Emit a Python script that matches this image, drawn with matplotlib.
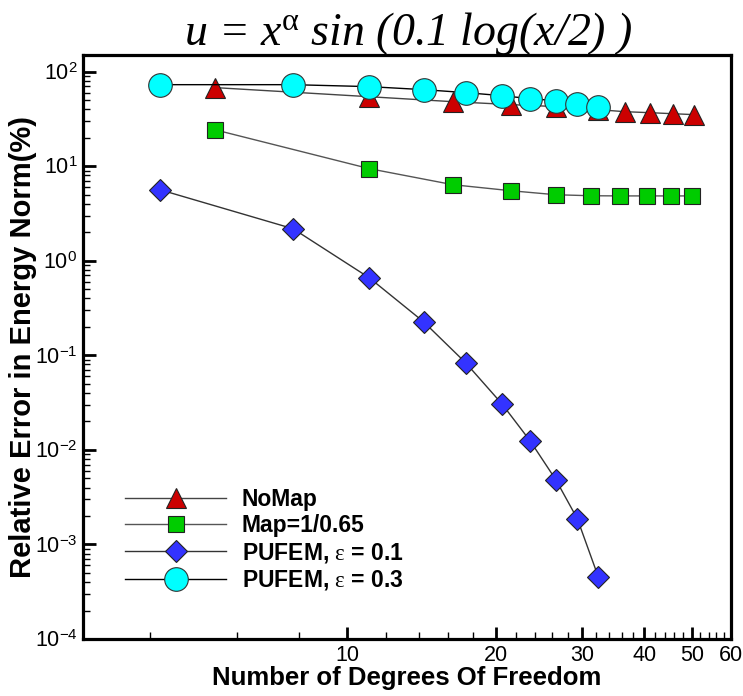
import matplotlib
matplotlib.use("Agg")
import matplotlib.pyplot as plt
from matplotlib.ticker import FixedLocator, FixedFormatter, LogLocator, NullFormatter

plt.rcParams['font.family'] = ['Liberation Sans', 'DejaVu Sans']
plt.rcParams['mathtext.fontset'] = 'custom'
plt.rcParams['mathtext.rm'] = 'Liberation Sans'
plt.rcParams['mathtext.it'] = 'Liberation Serif:italic'
plt.rcParams['mathtext.sf'] = 'Liberation Serif'

# ---------- data ----------
dof_nomap = [5.4, 11.1, 16.4, 21.5, 26.5, 32.3, 36.6, 41.1, 45.7, 50.5]
err_nomap = [67.8, 54.3, 48.1, 44.8, 42.7, 39.6, 37.7, 36.8, 35.9, 35.1]

dof_map = [5.4, 11.1, 16.4, 21.5, 26.5, 31.2, 35.8, 40.6, 45.3, 50.0]
err_map = [24.3, 9.42, 6.37, 5.5, 4.99, 4.87, 4.85, 4.85, 4.85, 4.85]

dof_pu01 = [4.18, 7.78, 11.1, 14.3, 17.4, 20.6, 23.5, 26.5, 29.3, 32.3]
err_pu01 = [5.64, 2.18, 0.66, 0.226, 0.0833, 0.0307, 0.01245, 0.00482, 0.00186, 0.000453]

dof_pu03 = [4.18, 7.78, 11.1, 14.3, 17.4, 20.6, 23.5, 26.5, 29.3, 32.3]
err_pu03 = [72.8, 72.8, 69.4, 64.5, 60.0, 55.7, 51.8, 49.3, 45.8, 42.6]

x_major = [10, 20, 30, 40, 50, 60]
x_minor = [4, 6, 8, 12, 14, 16, 18, 22, 24, 26, 28, 32, 34, 36, 38,
           42, 44, 46, 48, 52, 54, 56, 58]
y_major = [1e-4, 1e-3, 1e-2, 1e-1, 1e0, 1e1, 1e2]
y_labels = [r"10$^{-4}$", r"10$^{-3}$", r"10$^{-2}$", r"10$^{-1}$",
            r"10$^{0}$", r"10$^{1}$", r"10$^{2}$"]

fig = plt.figure(figsize=(7.43, 6.96), dpi=100)
ax = fig.add_axes([0.1117, 0.0819, 0.8723, 0.8391])

ax.plot(dof_nomap, err_nomap, color="#444444", lw=1.0, marker="^", ms=14,
        mfc="#CC0000", mec="#222222", mew=0.8, label="NoMap", zorder=3)
ax.plot(dof_map, err_map, color="#555555", lw=1.0, marker="s", ms=11.5,
        mfc="#00CC00", mec="#222222", mew=0.8, label="Map=1/0.65", zorder=3)
ax.plot(dof_pu01, err_pu01, color="#333333", lw=1.0, marker="D", ms=11.5,
        mfc="#3333FF", mec="#222222", mew=0.8,
        label=r"PUFEM, $\mathsf{\varepsilon}$ = 0.1", zorder=3)
ax.plot(dof_pu03, err_pu03, color="black", lw=1.0, marker="o", ms=17,
        mfc="#00FFFF", mec="#333333", mew=0.8,
        label=r"PUFEM, $\mathsf{\varepsilon}$ = 0.3", zorder=4)

ax.set_xscale("log")
ax.set_yscale("log")
ax.set_xlim(2.92, 60)
ax.set_ylim(1e-4, 150)

ax.xaxis.set_major_locator(FixedLocator(x_major))
ax.xaxis.set_major_formatter(FixedFormatter([str(v) for v in x_major]))
ax.xaxis.set_minor_locator(FixedLocator(x_minor))
ax.xaxis.set_minor_formatter(NullFormatter())

ax.yaxis.set_major_locator(FixedLocator(y_major))
ax.yaxis.set_major_formatter(FixedFormatter(y_labels))
ax.yaxis.set_minor_locator(LogLocator(base=10, subs=range(2, 10), numticks=20))
ax.yaxis.set_minor_formatter(NullFormatter())

ax.tick_params(which="both", direction="in", top=False, right=False,
               labelsize=15.5, width=1.5)
ax.tick_params(which="major", length=9, width=2)
ax.tick_params(which="minor", length=5, width=1)
ax.tick_params(axis="x", pad=4)
ax.tick_params(axis="y", pad=4)

for s in ax.spines.values():
    s.set_linewidth(2.3)

ax.set_xlabel("Number of Degrees Of Freedom", fontsize=18.5, fontweight="bold",
              labelpad=0)
ax.set_ylabel("Relative Error in Energy Norm(%)", fontsize=21, fontweight="bold",
              labelpad=-2)

fig.text(0.55, 0.952, r"u = x$^{\mathsf{\alpha}}$ sin (0.1 log(x/2) )",
         ha="center", va="center", fontsize=33, family="Liberation Serif",
         style="italic")

leg = ax.legend(loc="lower left", bbox_to_anchor=(0.065, 0.08), frameon=False,
                borderaxespad=0, borderpad=0,
                handlelength=4.4, handletextpad=0.7, labelspacing=0.15,
                prop={"weight": "bold", "size": 16.5})

fig.savefig("out.png", dpi=100)
